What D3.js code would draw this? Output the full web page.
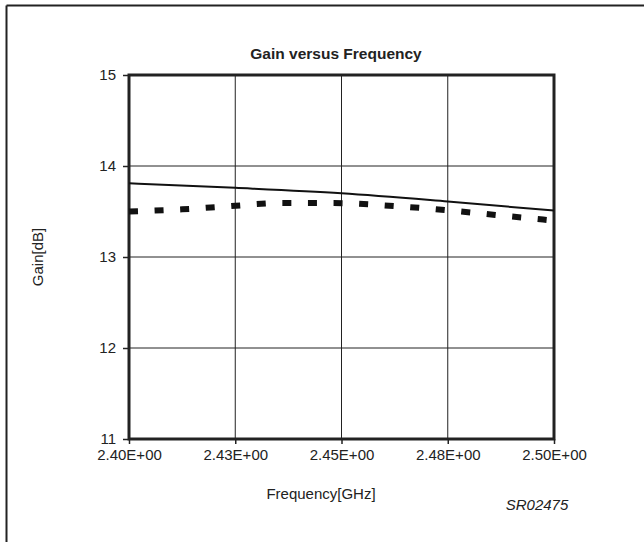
<!DOCTYPE html>
<html><head><meta charset="utf-8">
<script src="https://cdn.jsdelivr.net/npm/d3@7"></script>
<style>body{margin:0;background:#fff}svg{display:block}text{font-family:"Liberation Sans",Arial,sans-serif;fill:#222}</style>
</head><body>
<script>
const xTickValues = [2.400, 2.425, 2.450, 2.475, 2.500];
const xTickLabels = ["2.40E+00","2.43E+00","2.45E+00","2.48E+00","2.50E+00"];
const yTickValues = [11, 12, 13, 14, 15];
const solidFreq = [2.400, 2.425, 2.450, 2.475, 2.500];
const solidGain = [13.81, 13.76, 13.70, 13.61, 13.51];
const dotFreq = [2.400, 2.4125, 2.424, 2.436, 2.448, 2.4624, 2.4746, 2.4862, 2.500];
const dotGain = [13.50, 13.524, 13.56, 13.593, 13.593, 13.56, 13.516, 13.462, 13.40];

const W = 644, H = 542;
const FONT = "'Liberation Sans',Arial,sans-serif";
const svg = d3.select("body").append("svg").attr("width", W).attr("height", H);
// outer frame (left and top only visible)
svg.append("line").attr("x1",6.5).attr("x2",6.5).attr("y1",5.5).attr("y2",H).attr("stroke","#222").attr("stroke-width",2);
svg.append("line").attr("x1",6.5).attr("x2",W).attr("y1",5.5).attr("y2",5.5).attr("stroke","#222").attr("stroke-width",2);

const L = 129, R = 554, T = 75, B = 439;
const x = d3.scaleLinear().domain([2.40, 2.50]).range([L, R]);
const y = d3.scaleLinear().domain([11, 15]).range([B, T]);

// gridlines
svg.append("g").selectAll("line").data(xTickValues.slice(1,-1)).join("line")
  .attr("x1", d=>x(d)).attr("x2", d=>x(d)).attr("y1", T).attr("y2", B)
  .attr("stroke","#222").attr("stroke-width",1);
svg.append("g").selectAll("line").data(yTickValues.slice(1,-1)).join("line")
  .attr("x1", L).attr("x2", R).attr("y1", d=>y(d)).attr("y2", d=>y(d))
  .attr("stroke","#222").attr("stroke-width",1);

// axes
const xAxis = d3.axisBottom(x).tickValues(xTickValues).tickFormat((d,i)=>xTickLabels[i]).tickSize(5).tickPadding(5);
const gx = svg.append("g").attr("transform",`translate(0,${B})`).call(xAxis);
gx.select(".domain").remove();
gx.selectAll("line").attr("stroke","#222").attr("stroke-width",1.5);
gx.selectAll("text").style("font-size","15px").style("font-family",FONT).attr("fill","#222");

const yAxis = d3.axisLeft(y).tickValues(yTickValues).tickFormat(d3.format("d")).tickSize(6).tickPadding(7);
const gy = svg.append("g").attr("transform",`translate(${L},0)`).call(yAxis);
gy.select(".domain").remove();
gy.selectAll("line").attr("stroke","#222").attr("stroke-width",1.5);
gy.selectAll("text").style("font-size","15px").style("font-family",FONT).attr("fill","#222");

// plot frame
svg.append("rect").attr("x",L).attr("y",T).attr("width",R-L).attr("height",B-T)
  .attr("fill","none").attr("stroke","#222").attr("stroke-width",3);

// lines
const lineGen = d3.line().x(d=>x(d[0])).y(d=>y(d[1])).curve(d3.curveMonotoneX);
svg.append("path").datum(solidFreq.map((f,i)=>[f, solidGain[i]]))
  .attr("d", lineGen).attr("fill","none").attr("stroke","#111").attr("stroke-width",2);
svg.append("path").datum(dotFreq.map((f,i)=>[f, dotGain[i]]))
  .attr("d", lineGen).attr("fill","none").attr("stroke","#111").attr("stroke-width",6)
  .attr("stroke-dasharray","9 16.6");

// texts
svg.append("text").attr("x",336).attr("y",59).attr("text-anchor","middle")
  .style("font-size","15.5px").style("font-weight","bold").text("Gain versus Frequency");
svg.append("text").attr("transform","translate(43,257) rotate(-90)").attr("text-anchor","middle")
  .style("font-size","15px").text("Gain[dB]");
svg.append("text").attr("x",321).attr("y",499).attr("text-anchor","middle")
  .style("font-size","15px").text("Frequency[GHz]");
svg.append("text").attr("x",537).attr("y",510).attr("text-anchor","middle")
  .style("font-size","15px").style("font-style","italic").text("SR02475");
</script>
</body></html>
